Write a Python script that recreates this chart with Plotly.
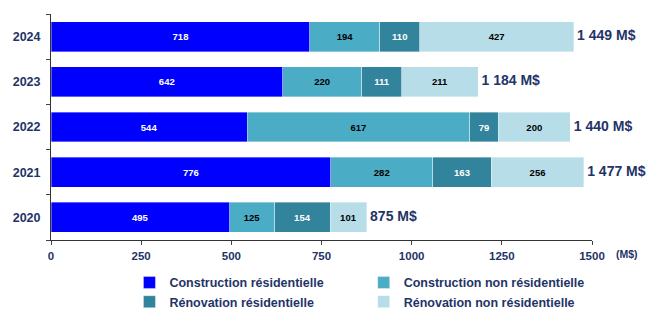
import plotly.graph_objects as go

years = ["2020", "2021", "2022", "2023", "2024"]
constr_res = [495, 776, 544, 642, 718]
constr_nonres = [125, 282, 617, 220, 194]
renov_res = [154, 163, 79, 111, 110]
renov_nonres = [101, 256, 200, 211, 427]
series_names = ["Construction résidentielle", "Construction non résidentielle",
                "Rénovation résidentielle", "Rénovation non résidentielle"]
tick_vals = [0, 250, 500, 750, 1000, 1250, 1500]

colors = ["#0000FF", "#4BACC6", "#31849B", "#B7DEE8"]
text_colors = ["white", "black", "white", "black"]
legends = ["legend", "legend2", "legend", "legend2"]
navy = "#1F3468"
FONT = "Arial, Liberation Sans, sans-serif"

fig = go.Figure()
for name, vals, c, tc, lg in zip(series_names, [constr_res, constr_nonres, renov_res, renov_nonres],
                                 colors, text_colors, legends):
    fig.add_trace(go.Bar(
        y=years, x=vals, name=name, orientation="h", legend=lg, legendgroup=name,
        marker=dict(color=c, line=dict(color="rgba(255,255,255,0.6)", width=0.6)),
        text=[str(v) for v in vals], textposition="inside", insidetextanchor="middle",
        textfont=dict(size=9.5, color=tc, family=FONT, weight="bold"),
        constraintext="none", width=0.66,
    ))

totals = [a + b + c + d for a, b, c, d in zip(constr_res, constr_nonres, renov_res, renov_nonres)]
total_labels = ["\u2005" + f"{t:,}".replace(",", " ") + " M$" for t in totals]
fig.add_trace(go.Scatter(
    x=totals, y=years, mode="text", text=total_labels, textposition="middle right",
    textfont=dict(size=14, color=navy, family=FONT, weight="bold"),
    showlegend=False, cliponaxis=False, hoverinfo="skip",
))

fig.add_annotation(x=1, y=0, xref="paper", yref="paper", text="(M$)", showarrow=False,
                   xanchor="left", yanchor="top", xshift=22, yshift=-6,
                   font=dict(size=10.5, color=navy, family=FONT, weight="bold"))

legend_font = dict(size=12.5, color=navy, family=FONT, weight="bold")
fig.update_layout(
    barmode="stack", width=647, height=301,
    margin=dict(l=43, r=63, t=6, b=69, autoexpand=False),
    plot_bgcolor="white", paper_bgcolor="white",
    font=dict(family=FONT, color=navy),
    showlegend=True,
    legend=dict(x=0.145, xanchor="left", y=-0.123, yanchor="top", traceorder="normal",
                font=legend_font, itemwidth=30, tracegroupgap=3, bgcolor="rgba(0,0,0,0)"),
    legend2=dict(x=0.578, xanchor="left", y=-0.123, yanchor="top", traceorder="normal",
                 font=legend_font, itemwidth=30, tracegroupgap=3, bgcolor="rgba(0,0,0,0)"),
    bargap=0.34,
)
fig.update_xaxes(range=[0, 1500], tickvals=tick_vals, ticks="outside", ticklen=4,
                 showline=True, linecolor="#333333", linewidth=1, showgrid=False, zeroline=False,
                 ticklabelstandoff=1, automargin=False,
                 tickfont=dict(size=11.5, color=navy, family=FONT, weight="bold"))
fig.update_yaxes(type="category", categoryorder="array", categoryarray=years, ticks="outside", ticklen=4,
                 tickson="boundaries", showline=True, linecolor="#333333", linewidth=1,
                 showgrid=False, ticklabelstandoff=7, range=[-0.5, 4.5], automargin=False,
                 tickfont=dict(size=12.5, color=navy, family=FONT, weight="bold"))

fig.write_html("out.html")
